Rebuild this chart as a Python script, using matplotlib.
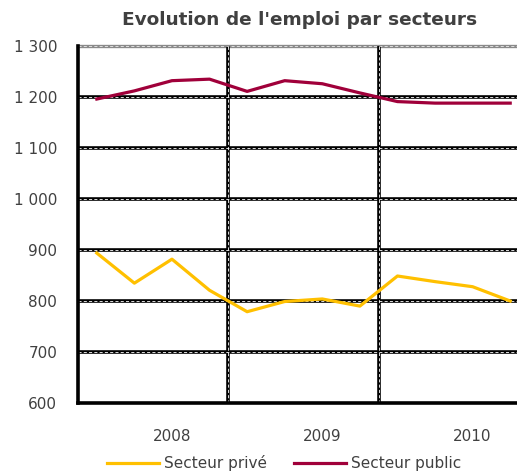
import matplotlib
matplotlib.use("Agg")
import matplotlib.pyplot as plt
from matplotlib.lines import Line2D

quarters = list(range(12))
year_labels = ["", "", "2008", "", "", "", "2009", "", "", "", "2010", ""]
prive = [894, 835, 882, 821, 779, 799, 804, 790, 849, 838, 828, 800]
public = [1196, 1212, 1232, 1235, 1211, 1232, 1226, 1208, 1191, 1188, 1188, 1188]
yticks = [600, 700, 800, 900, 1000, 1100, 1200, 1300]
ytick_labels = ["600", "700", "800", "900", "1 000", "1 100", "1 200", "1 300"]

W, H = 517, 475
fig = plt.figure(figsize=(W / 100, H / 100), dpi=100)
left, right, top, bottom = 78, 529, 46, 403
ax = fig.add_axes([left / W, 1 - bottom / H, (right - left) / W, (bottom - top) / H])

ax.set_xlim(-0.5, 11.5)
ax.set_ylim(600, 1300)

txt = "#404040"
wl = 0.6
wdash = (0, (2.2 / wl, 1.6 / wl))
# gridlines: thick black with white dashes
for y in yticks[1:-1]:
    ax.axhline(y, color="black", lw=2.6, zorder=1)
    ax.axhline(y, color="white", lw=wl, ls=wdash, zorder=1.1)
ax.axhline(1300, color="#8a8a8a", lw=2.4, zorder=1, clip_on=False)
ax.axhline(1300, color="white", lw=0.5, ls=(0, (2.2 / 0.5, 1.6 / 0.5)), zorder=1.1, clip_on=False)
for x in [3.5, 7.5]:
    ax.axvline(x, color="black", lw=2.6, zorder=1)
    ax.axvline(x, color="white", lw=wl, ls=wdash, zorder=1.1)

ax.plot(quarters, prive, color="#FFC000", lw=2.3, zorder=3, label="Secteur privé")
ax.plot(quarters, public, color="#A0003A", lw=2.3, zorder=3, label="Secteur public")

for s in ["top", "right"]:
    ax.spines[s].set_visible(False)
for s in ["left", "bottom"]:
    ax.spines[s].set_linewidth(2.6)
    ax.spines[s].set_color("black")
    ax.spines[s].set_zorder(4)

ax.set_yticks(yticks)
ax.set_yticklabels(ytick_labels, fontsize=11, color=txt)
ax.set_xticks(quarters)
ax.set_xticklabels(year_labels, fontsize=11, color=txt)
ax.tick_params(axis="y", length=0, pad=15)
ax.tick_params(axis="x", length=0, pad=19)

fig.text(300 / W, 1 - 20 / H, "Evolution de l'emploi par secteurs", ha="center", va="center",
         fontsize=13.3, fontweight="bold", color=txt)

handles = [Line2D([], [], color="#FFC000", lw=2.3), Line2D([], [], color="#A0003A", lw=2.3)]
fig.legend(handles, ["Secteur privé", "Secteur public"], loc="center",
           bbox_to_anchor=(284 / W, 1 - 463 / H), ncol=2, frameon=False, fontsize=11,
           handlelength=3.4, handletextpad=0.3, columnspacing=1.8, labelcolor=txt)

fig.savefig("out.png", dpi=100)
